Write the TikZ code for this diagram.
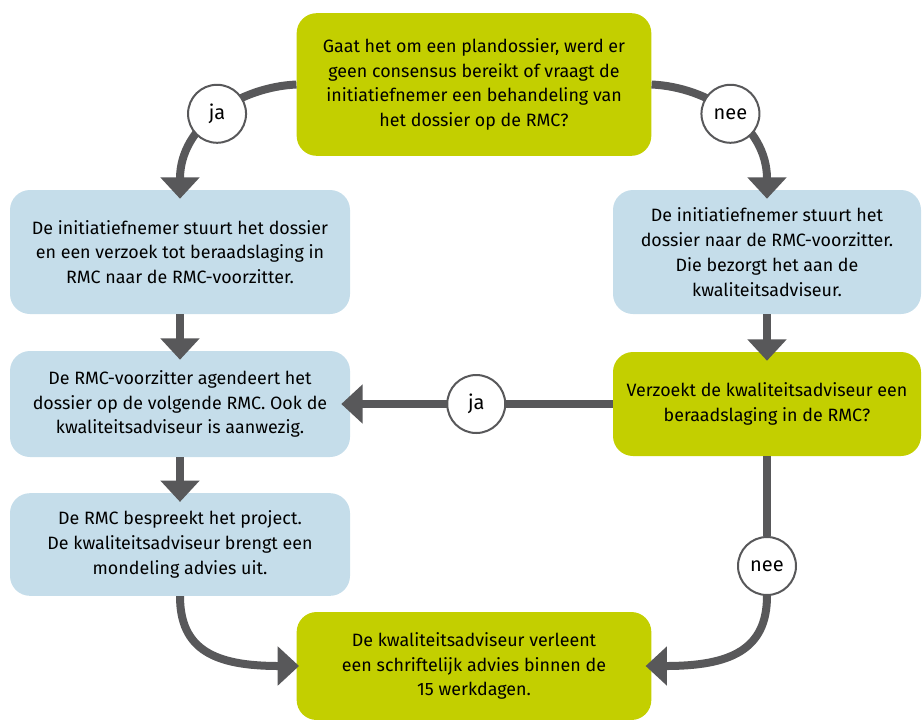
\documentclass[tikz,border=0pt]{standalone}
\usepackage{fontspec}
\setmainfont{Fira Sans}
\usetikzlibrary{arrows.meta}
\definecolor{rmcgreen}{HTML}{C3CF00}
\definecolor{rmcblue}{HTML}{C5DDEA}
\definecolor{rmcgrey}{HTML}{58585A}

\begin{document}
\begin{tikzpicture}[x=0.75pt,y=-0.75pt,
	box/.style={rectangle, rounded corners=15pt, align=center, inner sep=0pt,
		font=\fontsize{13.4}{18.6}\selectfont},
	question/.style={box, fill=rmcgreen},
	action/.style={box, fill=rmcblue},
	conn/.style={draw=rmcgrey, line width=6pt},
	arr/.style={conn, -{Triangle[width=28.5pt, length=16pt]}, shorten >=-6.75pt},
	answer/.style={circle, draw=rmcgrey, line width=1.5pt, fill=white,
		minimum size=43.5pt, inner sep=0pt, font=\fontsize{15}{17}\selectfont}]
	\useasboundingbox (0,0) rectangle (922,719);

	\node[question, minimum width=266pt, minimum height=107pt] (top) at (474,84.5)
		{Gaat het om een plandossier, werd er\\geen consensus bereikt of vraagt de\\initiatiefnemer een behandeling van\\het dossier op de RMC?};

	\node[action, minimum width=255pt, minimum height=93pt] (b1) at (180,252)
		{De initiatiefnemer stuurt het dossier\\en een verzoek tot beraadslaging in\\RMC naar de RMC-voorzitter.};
	\node[action, minimum width=231pt, minimum height=93pt] (r1) at (767,252)
		{De initiatiefnemer stuurt het\\dossier naar de RMC-voorzitter.\\Die bezorgt het aan de\\kwaliteitsadviseur.};

	\node[action, minimum width=255pt, minimum height=79.5pt] (b2) at (180,404)
		{De RMC-voorzitter agendeert het\\dossier op de volgende RMC. Ook de\\kwaliteitsadviseur is aanwezig.};
	\node[question, minimum width=231pt, minimum height=78pt] (r2) at (767,404)
		{Verzoekt de kwaliteitsadviseur een\\beraadslaging in de RMC?};

	\node[action, minimum width=255pt, minimum height=77pt] (b3) at (180,544.5)
		{De RMC bespreekt het project.\\De kwaliteitsadviseur brengt een\\mondeling advies uit.};

	\node[question, minimum width=266pt, minimum height=81pt] (bot) at (474,666)
		{De kwaliteitsadviseur verleent\\een schriftelijk advies binnen de\\15 werkdagen.};

	\draw[arr] (top.west) .. controls (240,87) and (180,125) .. (b1.north)
		node[answer, pos=0.5] (ja1) {ja};
	\draw[arr] (top.east) .. controls (708,87) and (767,125) .. (r1.north)
		node[answer, pos=0.5] (nee1) {nee};

	\draw[arr] (b1) -- (b2);
	\draw[arr] (b2) -- (b3);
	\draw[arr] (r1) -- (r2);
	\draw[arr] (r2) -- (b2) node[answer, pos=0.52] (ja2) {ja};

	\node[answer] (nee2) at (767,566) {nee};
	\draw[conn] (r2) -- (nee2);
	\draw[arr, shorten >=-4.5pt] (nee2) .. controls (767,650) and (730,666) .. (bot.east);
	\draw[arr, shorten >=-2pt] (b3) .. controls (180,650) and (215,666) .. (bot.west);
\end{tikzpicture}
\end{document}
